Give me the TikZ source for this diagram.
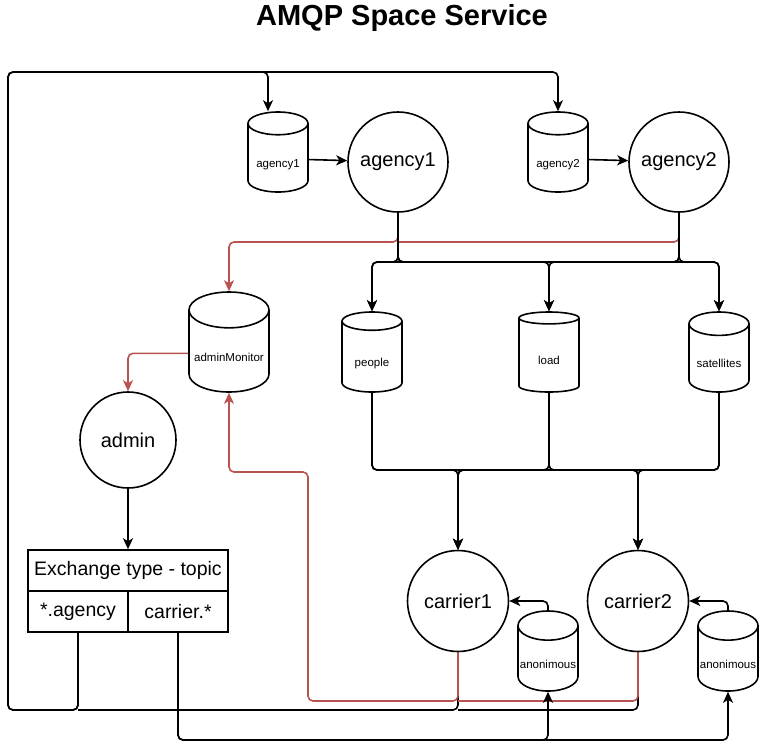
\documentclass[tikz,border=0pt]{standalone}
\usepackage{fontspec}
\setmainfont{Liberation Sans}
\usetikzlibrary{shapes.geometric}
\usetikzlibrary{arrows.meta}
\definecolor{monitorred}{HTML}{B85450}
\newcommand{\qlabel}[1]{\raisebox{-8pt}[0pt][0pt]{#1}}

\begin{document}
\begin{tikzpicture}[x=1pt,y=-1pt,line width=1.6pt,
    proc/.style={circle, draw, minimum size=100pt, inner sep=0pt, font=\fontsize{20}{24}\selectfont},
    queue/.style={cylinder, shape border rotate=90, aspect=0.5, draw, anchor=shape center, minimum width=60pt, minimum height=80pt, inner sep=1pt, font=\fontsize{11.5}{14}\selectfont}]
    \tikzset{cell/.style={rectangle, draw, minimum height=41pt, inner sep=0pt, font=\fontsize{19.5}{23}\selectfont}}
    \tikzset{link/.style={rounded corners=5pt, >={Stealth[length=11pt,width=10pt,inset=3pt]}},
    monitor/.style={link, draw=monitorred}}
    \useasboundingbox (0,0) rectangle (759,750);

    \node[font=\bfseries\fontsize{29}{34}\selectfont] (title) at (402,18) {AMQP Space Service};

    % consumers
    \node[proc] (agency1) at (398,162) {agency1};
    \node[proc] (agency2) at (679,162) {agency2};
    \node[proc, minimum size=96pt] (admin) at (128,440) {admin};
    \node[proc, minimum size=101pt] (carrier1) at (458,601) {carrier1};
    \node[proc, minimum size=101pt] (carrier2) at (638,601) {carrier2};

    % queues
    \node[queue] (qagency1) at (278,152) {\qlabel{agency1}};
    \node[queue] (qagency2) at (558,152) {\qlabel{agency2}};
    \node[queue, minimum width=80pt, minimum height=100pt] (adminMonitor) at (229,342) {\qlabel{adminMonitor}};
    \node[queue] (people) at (372,352) {\qlabel{people}};
    \node[queue] (load) at (549,352) {\qlabel{load}};
    \node[queue] (satellites) at (719,352) {\qlabel{satellites}};
    \node[queue] (anon1) at (548,651) {\qlabel{anonimous}};
    \node[queue] (anon2) at (728,651) {\qlabel{anonimous}};

    % exchange
    \node[cell, minimum width=200pt] (exchange) at (128,570.5) {Exchange type - topic};
    \node[cell, minimum width=100pt] (agencyKey) at (78,611.5) {*.agency};
    \node[cell, minimum width=100pt] (carrierKey) at (178,611.5) {carrier.*};

    \coordinate (topY) at (0,72);
    \coordinate (leftX) at (8,0);
    \coordinate (busY) at (0,710);
    \coordinate (lowY) at (0,740);
    \coordinate (redY) at (0,242);
    \coordinate (fanY) at (0,262);
    \coordinate (mergeY) at (0,470);
    \coordinate (redbend) at (308,472);
    \coordinate (redlowY) at (0,701);
    \coordinate (in1) at ([xshift=-10pt]qagency1.north);

    \draw[link,->] (agencyKey.south) |- (busY -| leftX) |- (in1 |- topY) -- (in1);
    \draw[link,->] (agencyKey.south) |- (busY -| leftX) |- (qagency2.north |- topY) -- (qagency2.north);
    \draw[link,->] (qagency1.east) -- (agency1);
    \draw[link,->] (qagency2.east) -- (agency2);

    \draw[monitor,->] (agency1.south) |- (adminMonitor.north |- redY) -- (adminMonitor.north);
    \draw[monitor] (agency2.south) |- (agency1.south |- redY);
    \foreach \src in {agency1,agency2}
      \foreach \dst in {people,load,satellites}
        \draw[link,->] (\src.south) |- (\dst.north |- fanY) -- (\dst.north);
    \foreach \src in {people,load,satellites}
      \foreach \dst in {carrier1,carrier2}
        \draw[link,->] (\src.south) |- (\dst.north |- mergeY) -- (\dst.north);

    \draw[link] (carrier1.south) |- (agencyKey.south |- busY);
    \draw[link] (carrier2.south) |- (carrier1.south |- busY);
    \draw[monitor,->] (carrier1.south) |- (redbend |- redlowY) |- (adminMonitor.south |- redbend) -- (adminMonitor.south);
    \draw[monitor] (carrier2.south) |- (carrier1.south |- redlowY);
    \draw[monitor,->] (adminMonitor.west) -| (admin.north);
    \draw[link,->] (admin) -- (exchange);

    \foreach \dst in {anon1,anon2}
      \draw[link,->] (carrierKey.south) |- (\dst.south |- lowY) -- (\dst.south);
    \draw[link,->] (anon1.north) |- (carrier1.east);
    \draw[link,->] (anon2.north) |- (carrier2.east);
\end{tikzpicture}
\end{document}
